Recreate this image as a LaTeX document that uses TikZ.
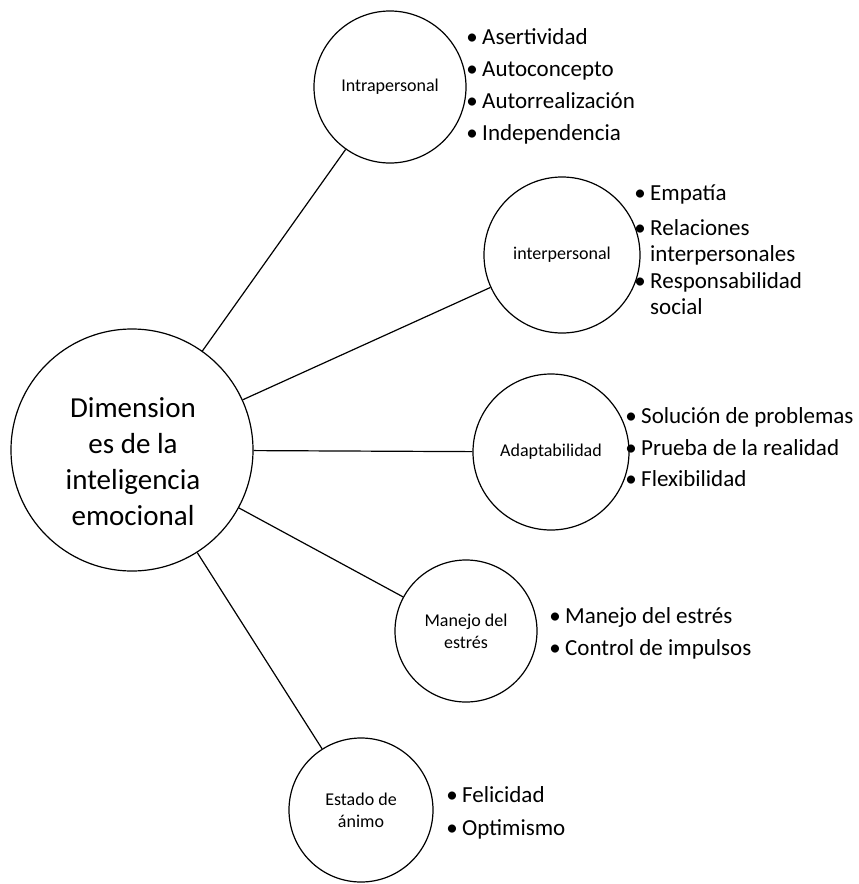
\documentclass[tikz,border=0pt]{standalone}
\usepackage{fontspec}
\setmainfont{Carlito}
\begin{document}
\begin{tikzpicture}[x=1pt,y=-1pt,
  dimcirc/.style={draw,circle,line width=1.2pt,inner sep=0pt},
  subcirc/.style={dimcirc,align=center,font=\fontsize{18}{22}\selectfont},
  itemtxt/.style={anchor=west,inner sep=0pt,font=\fontsize{23}{27}\selectfont,text height=16pt,text depth=5pt},
  bultxt/.style={itemtxt,anchor=center},
  conn/.style={line width=1.2pt}]
\useasboundingbox (0,0) rectangle (859,884);
\pgfmathsetmacro{\gap}{10}
\node[dimcirc,minimum size=242pt] (dim) at (132,450) {};
\node[align=center,font=\fontsize{29}{36}\selectfont] (dimtxt) at (133,462) {Dimension\\es de la\\inteligencia\\emocional};
\node[subcirc,minimum size=152pt] (intra) at (390,87) {Intrapersonal};
\node[subcirc,minimum size=156pt] (inter) at (562,255) {interpersonal};
\node[subcirc,minimum size=156pt] (adap) at (551,452) {Adaptabilidad};
\node[subcirc,minimum size=142pt] (manejo) at (466,631) {Manejo del\\estrés};
\node[subcirc,minimum size=144pt] (estado) at (361,810) {Estado de\\ánimo};
\foreach \n in {intra,inter,adap,manejo,estado}{\draw[conn] (dim)--(\n);}
\foreach \y/\t [count=\i] in {39/Asertividad,71/Autoconcepto,103/Autorrealización,135/Independencia}{\node[bultxt] (intrab\i) at (472,\y) {•}; \node[itemtxt] (intrat\i) at (472+\gap,\y) {\t};}
\foreach \y/\t [count=\i] in {195/Empatía,230/Relaciones,283/Responsabilidad}{\node[bultxt] (interb\i) at (640,\y) {•}; \node[itemtxt] (intert\i) at (640+\gap,\y) {\t};}
\node[itemtxt] (intert4) at (650,256) {interpersonales};
\node[itemtxt] (intert5) at (650,309) {social};
\foreach \y/\t [count=\i] in {418/Solución de problemas,450/Prueba de la realidad,481/Flexibilidad}{\node[bultxt] (adapb\i) at (631,\y) {•}; \node[itemtxt] (adapt\i) at (631+\gap,\y) {\t};}
\foreach \y/\t [count=\i] in {618/Manejo del estrés,650/Control de impulsos}{\node[bultxt] (manejob\i) at (555,\y) {•}; \node[itemtxt] (manejot\i) at (555+\gap,\y) {\t};}
\foreach \y/\t [count=\i] in {797/Felicidad,830/Optimismo}{\node[bultxt] (estadob\i) at (452,\y) {•}; \node[itemtxt] (estadot\i) at (452+\gap,\y) {\t};}
\end{tikzpicture}
\end{document}
